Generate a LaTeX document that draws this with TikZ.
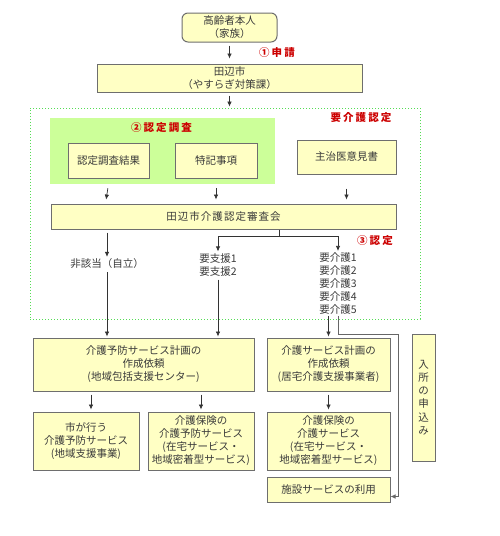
\documentclass[tikz,border=0pt]{standalone}
\usepackage{fontspec}
\setmainfont{Noto Sans CJK JP}
\usetikzlibrary{arrows.meta}
\definecolor{boxfill}{HTML}{FFFFC4}
\definecolor{greenfill}{HTML}{CCFF99}
\definecolor{dotgreen}{HTML}{55DD55}
\definecolor{redtxt}{HTML}{CC0000}
\definecolor{txt}{HTML}{3A3A3A}
\definecolor{edge}{HTML}{6E6E6E}
\tikzset{
  box/.style={draw=edge, line width=1pt, fill=boxfill, text=txt, align=center,
    inner sep=0pt, font=\fontsize{10.5}{13}\selectfont},
  lbl/.style={text=txt, align=center, inner sep=1pt, font=\fontsize{10.5}{13}\selectfont},
  redlbl/.style={text=redtxt, inner sep=0pt, font=\fontsize{10.5}{13}\selectfont\bfseries\addfontfeature{LetterSpace=20}},
  arr/.style={draw=black!80, line width=0.7pt, -{Latex[length=5pt,width=4.5pt]}},
  ln/.style={draw=black!80, line width=0.7pt},
}
\begin{document}
\begin{tikzpicture}[x=1pt,y=-1pt]
\useasboundingbox (0,0) rectangle (500,536);
% dotted frame and green area
\node[draw=dotgreen, line width=0.8pt, dash pattern=on 1.2pt off 1.8pt,
  minimum width=390pt, minimum height=211pt, inner sep=0pt] (frame) at (225,213.5) {};
\node[fill=greenfill, minimum width=225pt, minimum height=66pt, inner sep=0pt] (green) at (162.5,151) {};
% top part
\node[box, rounded corners=6pt, minimum width=95pt, minimum height=29pt] (honnin) at (229.5,27.5) {高齢者本人\\（家族）};
\node[redlbl] (shinsei) at (277,53) {①申請};
\node[box, minimum width=265pt, minimum height=28pt] (city) at (229.5,78) {田辺市\\（やすらぎ対策課）};
\node[redlbl] (yokaigo) at (361,118) {要介護認定};
\node[redlbl] (chosa) at (161.5,128) {②認定調査};
\node[box, minimum width=81pt, minimum height=35pt] (kekka) at (108.5,160.5) {認定調査結果};
\node[box, minimum width=82pt, minimum height=35pt] (tokki) at (216,160.5) {特記事項};
\node[box, minimum width=99pt, minimum height=34pt] (ishi) at (346.5,157) {主治医意見書};
\node[box, minimum width=345pt, minimum height=25pt] (shinsa) at (223.5,216.5) {\addfontfeature{LetterSpace=10}田辺市介護認定審査会};
\node[redlbl] (nintei) at (375,241) {③認定};
\node[lbl] (hi) at (107,264) {非該当（自立）};
\node[lbl] (shien) at (218,265) {要支援1\\要支援2};
\node[lbl, align=left] (kaigolv) at (338,284) {要介護1\\要介護2\\要介護3\\要介護4\\要介護5};
% lower part
\node[box, minimum width=221pt, minimum height=53pt] (yobo) at (143.5,364.5) {介護予防サービス計画の\\作成依頼\\(地域包括支援センター)};
\node[box, minimum width=123pt, minimum height=53pt] (kplan) at (328.5,364.5) {介護サービス計画の\\作成依頼\\(居宅介護支援事業者)};
\node[box, minimum width=23pt, minimum height=127pt, font=\fontsize{10.5}{13.3}\selectfont] (nyusho) at (423.5,397.5) {入\\所\\の\\申\\込\\み};
\node[box, minimum width=106pt, minimum height=58pt] (shi) at (86,441) {市が行う\\介護予防サービス\\(地域支援事業)};
\node[box, minimum width=106pt, minimum height=58pt] (yobosvc) at (201,441) {介護保険の\\介護予防サービス\\(在宅サービス・\\地域密着型サービス)};
\node[box, minimum width=123pt, minimum height=58pt] (kaigosvc) at (328.5,441) {介護保険の\\介護サービス\\(在宅サービス・\\地域密着型サービス)};
\node[box, minimum width=123pt, minimum height=25pt] (shisetsu) at (328.5,489.5) {施設サービスの利用};
% connectors
\draw[arr, shorten <=3pt, shorten >=5pt] (honnin.south) -- (city.north);
\draw[arr, shorten <=3pt, shorten >=1pt] (city.south) -- (city.south |- frame.north);
\draw[arr, shorten <=4pt, shorten >=4pt] (kekka.south |- green.south) -- ([xshift=-3pt]kekka.south |- shinsa.north);
\draw[arr, shorten <=4pt, shorten >=4pt] (tokki.south |- green.south) -- (tokki.south |- shinsa.north);
\draw[arr, shorten <=14pt, shorten >=4pt] (ishi.south) -- (ishi.south |- shinsa.north);
\draw[arr, shorten <=3pt, shorten >=1pt] (hi.north |- shinsa.south) -- (hi.north);
\coordinate (br) at (279,236);
\draw[ln] (br |- shinsa.south) -- (br);
\draw[arr, shorten >=1pt] (br) -| (shien.north);
\draw[arr, shorten >=1pt] (br) -| (kaigolv.north);
\draw[arr, shorten <=2pt, shorten >=1pt] (hi.south) -- (hi.south |- yobo.north);
\draw[arr, shorten <=2pt, shorten >=1pt] (shien.south) -- (shien.south |- yobo.north);
\draw[arr, shorten >=1pt] (kplan.north |- kaigolv.south) -- (kplan.north);
\coordinate (bend) at (398,334);
\draw[arr, draw=black!60] (kaigolv.south) |- (bend) |- ([yshift=-7pt]shisetsu.east);
\draw[arr, shorten <=3pt, shorten >=2pt] ([xshift=5pt]shi.north |- yobo.south) -- ([xshift=5pt]shi.north);
\draw[arr, shorten <=3pt, shorten >=2pt] (yobosvc.north |- yobo.south) -- (yobosvc.north);
\draw[arr, shorten <=3pt, shorten >=2pt] (kplan.south) -- (kaigosvc.north);
\end{tikzpicture}
\end{document}
